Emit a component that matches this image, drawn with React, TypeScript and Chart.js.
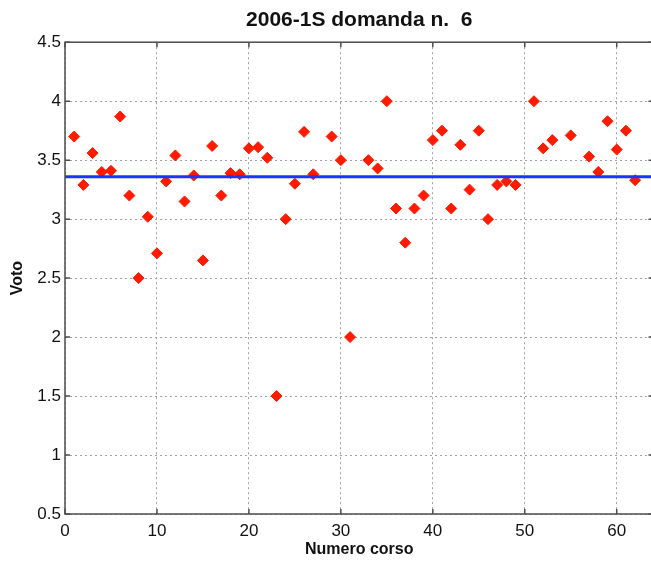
import { useEffect, useRef } from "react";
import { Chart, registerables } from "chart.js";

Chart.register(...registerables);

const courseNumbers = [
  1, 2, 3, 4, 5, 6, 7, 8, 9, 10, 11, 12, 13, 14, 15, 16, 17, 18, 19, 20, 21,
  22, 23, 24, 25, 26, 27, 29, 30, 31, 33, 34, 35, 36, 37, 38, 39, 40, 41, 42,
  43, 44, 45, 46, 47, 48, 49, 51, 52, 53, 55, 57, 58, 59, 60, 61, 62,
];
const votes = [
  3.7, 3.29, 3.56, 3.4, 3.41, 3.87, 3.2, 2.5, 3.02, 2.71, 3.32, 3.54, 3.15,
  3.37, 2.65, 3.62, 3.2, 3.39, 3.38, 3.6, 3.61, 3.52, 1.5, 3.0, 3.3, 3.74,
  3.38, 3.7, 3.5, 2.0, 3.5, 3.43, 4.0, 3.09, 2.8, 3.09, 3.2, 3.67, 3.75, 3.09,
  3.63, 3.25, 3.75, 3.0, 3.29, 3.32, 3.29, 4.0, 3.6, 3.67, 3.71, 3.53, 3.4,
  3.83, 3.59, 3.75, 3.33,
];
const meanVote = 3.36;
const xMin = 0;
const xMax = 64;

const FONT = "'Liberation Sans', Arial, sans-serif";

// MATLAB-ish box round the plot, with inward tick marks
const framePlugin = {
  id: "frame",
  afterDraw(chart: any) {
    const { ctx, chartArea: a, scales } = chart;
    ctx.save();
    ctx.strokeStyle = "#4d4d4d";
    ctx.lineWidth = 1.5;
    ctx.strokeRect(a.left, a.top, a.right - a.left, a.bottom - a.top);
    ctx.beginPath();
    scales.x.ticks.forEach((t: any) => {
      const px = scales.x.getPixelForValue(t.value);
      ctx.moveTo(px, a.bottom);
      ctx.lineTo(px, a.bottom - 5);
      ctx.moveTo(px, a.top);
      ctx.lineTo(px, a.top + 5);
    });
    scales.y.ticks.forEach((t: any) => {
      const py = scales.y.getPixelForValue(t.value);
      ctx.moveTo(a.left, py);
      ctx.lineTo(a.left + 5, py);
      ctx.moveTo(a.right, py);
      ctx.lineTo(a.right - 5, py);
    });
    ctx.stroke();
    ctx.restore();
  },
};

const App = () => {
  const canvasRef = useRef<HTMLCanvasElement>(null);

  useEffect(() => {
    if (!canvasRef.current) return;
    const chart = new Chart(canvasRef.current, {
      type: "scatter",
      data: {
        datasets: [
          {
            type: "line",
            label: "Media",
            data: [
              { x: xMin, y: meanVote },
              { x: xMax, y: meanVote },
            ],
            borderColor: "#1a35ff",
            borderWidth: 3,
            pointRadius: 0,
            order: 0,
          },
          {
            label: "Voto",
            data: courseNumbers.map((c, i) => ({ x: c, y: votes[i] })),
            pointStyle: "rectRot",
            pointRadius: 5.5,
            pointBackgroundColor: "#ff1a00",
            pointBorderColor: "#ff1a00",
            pointBorderWidth: 1,
            order: 1,
          },
        ],
      },
      options: {
        animation: false,
        responsive: true,
        maintainAspectRatio: false,
        layout: { padding: 0 },
        plugins: {
          legend: { display: false },
          tooltip: { enabled: false },
          title: {
            display: true,
            fullSize: false,
            text: "2006-1S domanda n.  6",
            color: "#111",
            font: { family: FONT, size: 21, weight: "bold", lineHeight: 1.2 },
            padding: { top: 8, bottom: 9 },
          },
        },
        scales: {
          x: {
            type: "linear",
            min: xMin,
            max: xMax,
            afterBuildTicks: (s: any) => {
              s.ticks = s.ticks.filter((t: any) => t.value % 10 === 0);
            },
            afterFit: (s: any) => {
              s.height = 49;
            },
            ticks: {
              stepSize: 10,
              color: "#111",
              padding: 7,
              maxRotation: 0,
              font: { family: FONT, size: 17 },
            },
            grid: {
              color: "#a0a0a0",
              lineWidth: 1,
              drawTicks: false,
            },
            border: { display: false, dash: [2, 3] },
            title: {
              display: true,
              text: "Numero corso",
              color: "#111",
              font: { family: FONT, size: 16, weight: "bold", lineHeight: 1.2 },
              padding: { top: 0, bottom: 4 },
            },
          },
          y: {
            min: 0.5,
            max: 4.5,
            afterFit: (s: any) => {
              s.width = 65;
            },
            ticks: {
              stepSize: 0.5,
              color: "#111",
              padding: 4,
              font: { family: FONT, size: 17 },
              callback: (v: any) => String(Number(v)),
            },
            grid: {
              color: "#a0a0a0",
              lineWidth: 1,
              drawTicks: false,
            },
            border: { display: false, dash: [2, 3] },
            title: {
              display: true,
              text: "Voto",
              color: "#111",
              font: { family: FONT, size: 16, weight: "bold", lineHeight: 1.2 },
              padding: { top: 8, bottom: 0 },
            },
          },
        },
      },
      plugins: [framePlugin],
    });
    return () => {
      chart.destroy();
    };
  }, []);

  return (
    <div
      style={{
        position: "fixed",
        left: 0,
        top: 0,
        width: 651,
        height: 563,
        overflow: "hidden",
        background: "#fff",
      }}
    >
      <div style={{ position: "relative", width: 660, height: 563 }}>
        <canvas ref={canvasRef}></canvas>
      </div>
    </div>
  );
};

export default App;
